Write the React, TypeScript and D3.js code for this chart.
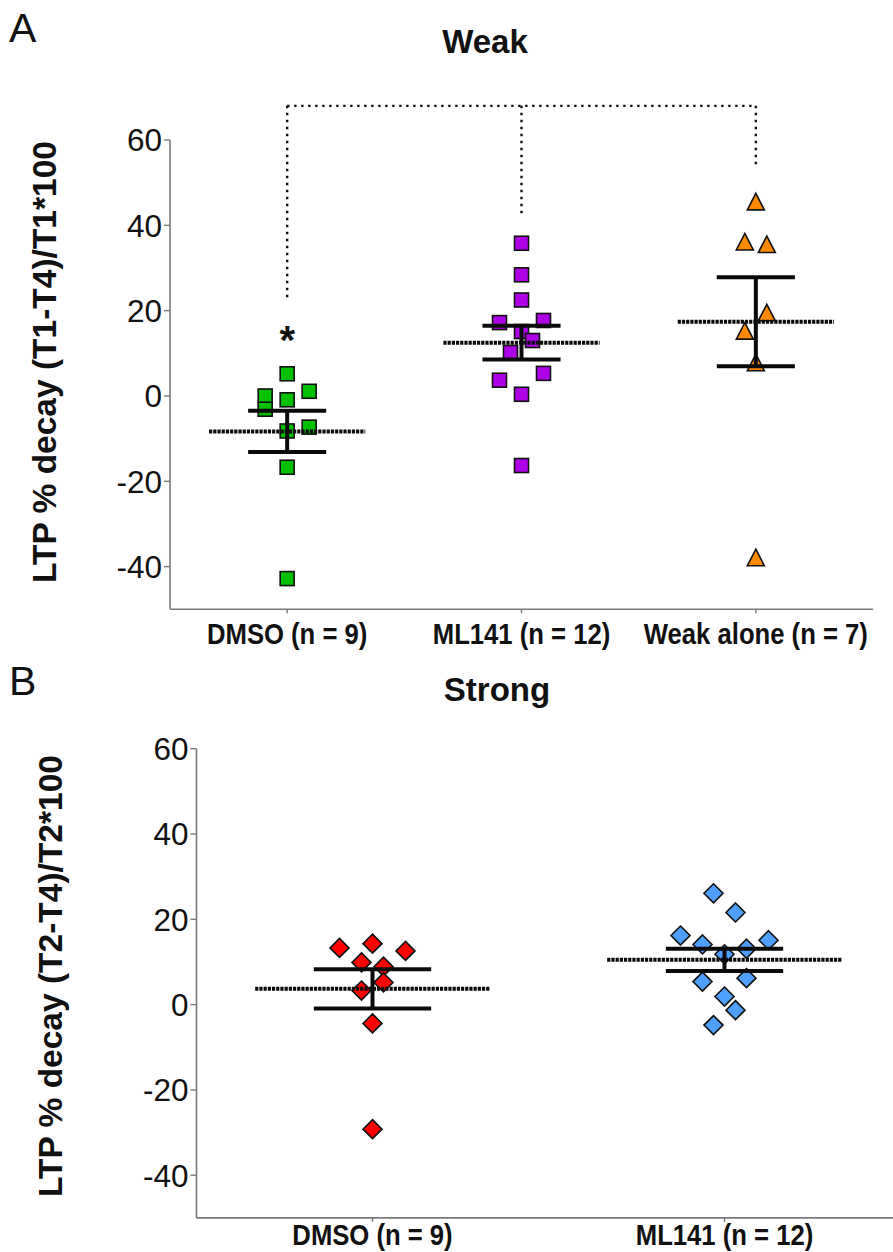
import React from "react";
import * as d3 from "d3";

// ---------- DATA ----------
const weakGroups = ["DMSO (n = 9)", "ML141 (n = 12)", "Weak alone (n = 7)"];
const weakDMSO = [5.2, 1.1, 0.0, -3.1, -0.9, -7.3, -8.2, -16.7, -42.8];
const weakDMSOSlots = [0, 2, -2, -2, 0, 2, 0, 0, 0];
const weakML141 = [35.8, 28.4, 22.5, 17.2, 17.7, 15.1, 13.0, 10.2, 3.7, 5.3, 0.4, -16.3];
const weakML141Slots = [0, 0, 0, -2, 2, 0, 1, -1, -2, 2, 0, 0];
const weakAlone = [45.5, 36.1, 35.5, 19.5, 15.2, 7.8, -37.9];
const weakAloneSlots = [0, -1, 1, 1, -1, 0, 0];
const weakMeans = [-8.3, 12.5, 17.4];
const weakSEM = [4.85, 3.95, 10.45];
const weakBracketTop = 68;
const weakBracketEnds = [22.5, 42.5, 53.5];
const weakStarValue = 14.8;

const strongGroups = ["DMSO (n = 9)", "ML141 (n = 12)"];
const strongDMSO = [13.3, 14.3, 12.6, 9.9, 8.9, 5.2, 3.3, -4.4, -29.2];
const strongDMSOSlots = [-3, 0, 3, -1, 1, 1, -1, 0, 0];
const strongML141 = [26.1, 21.6, 16.2, 14.1, 15.1, 13.1, 11.8, 5.4, 6.2, 1.9, -1.3, -4.8];
const strongML141Slots = [-1, 1, -4, -2, 4, 2, 0, -2, 2, 0, 1, -1];
const strongMeans = [3.7, 10.5];
const strongSEM = [4.6, 2.6];

const yTicks = [60, 40, 20, 0, -20, -40];
const yDomain: [number, number] = [-50, 60];

// ---------- STYLE ----------
const FONT = "'Liberation Sans', Arial, Helvetica, sans-serif";
const JITTER = 11;
const AXIS_COLOR = "#7a7a7a";

type Shape = "square" | "triangle" | "diamond";
type Series = { values: number[]; slots: number[]; color: string; shape: Shape };

function Marker({ shape, x, y, color }: { shape: Shape; x: number; y: number; color: string }) {
  const common = { fill: color, stroke: "#111", strokeWidth: 1.6 };
  if (shape === "square") {
    return <rect x={x - 7} y={y - 7} width={14} height={14} {...common} />;
  }
  if (shape === "triangle") {
    return <path d={`M${x},${y - 8.5}L${x + 8.5},${y + 8}L${x - 8.5},${y + 8}Z`} {...common} strokeLinejoin="miter" />;
  }
  return <path d={`M${x},${y - 9.5}L${x + 9.5},${y}L${x},${y + 9.5}L${x - 9.5},${y}Z`} {...common} />;
}

type PanelProps = {
  groups: string[];
  series: Series[];
  means: number[];
  sems: number[];
  xRange: [number, number];
  yRange: [number, number];
  title: string;
  titleX: number;
  titleY: number;
  letter: string;
  letterY: number;
  yLabel: string;
  yLabelX: number;
  yLabelY: number;
  xLabelY: number;
  extra?: (x: d3.ScaleBand<string>, y: d3.ScaleLinear<number, number>) => React.ReactNode;
};

function Panel(p: PanelProps) {
  const x = d3.scaleBand<string>().domain(p.groups).range(p.xRange).padding(0);
  const y = d3.scaleLinear().domain(yDomain).range(p.yRange);
  const bw = x.bandwidth();
  const axisX = p.xRange[0];
  const axisY = y(yDomain[0]);
  return (
    <g>
      <text x={9} y={p.letterY} fontFamily={FONT} fontSize={41} fill="#111" transform={`scale(1,1)`}>{p.letter}</text>
      <text x={p.titleX} y={p.titleY} fontFamily={FONT} fontSize={33} fontWeight="bold" textAnchor="middle" fill="#111">
        {p.title}
      </text>
      {/* axes */}
      <line x1={axisX} x2={axisX} y1={y(yDomain[1])} y2={axisY} stroke={AXIS_COLOR} strokeWidth={1.6} />
      <line x1={axisX} x2={p.xRange[1]} y1={axisY} y2={axisY} stroke={AXIS_COLOR} strokeWidth={1.6} />
      {yTicks.map((t) => (
        <g key={t}>
          <line x1={axisX - 6} x2={axisX} y1={y(t)} y2={y(t)} stroke={AXIS_COLOR} strokeWidth={1.4} />
          <text x={axisX - 8} y={y(t)} dy="0.36em" textAnchor="end" fontFamily={FONT} fontSize={31.5} fill="#111">
            {t}
          </text>
        </g>
      ))}
      {p.groups.map((g) => {
        const cx = (x(g) as number) + bw / 2;
        return (
          <g key={g}>
            <line x1={cx} x2={cx} y1={axisY} y2={axisY + 4} stroke={AXIS_COLOR} strokeWidth={1.4} />
            <text
              transform={`translate(${cx},${p.xLabelY}) scale(0.87,1)`}
              textAnchor="middle"
              fontFamily={FONT}
              fontSize={29.5}
              fontWeight="bold"
              fill="#111"
            >
              {g}
            </text>
          </g>
        );
      })}
      <text
        transform={`translate(${p.yLabelX},${p.yLabelY}) rotate(-90)`}
        textAnchor="middle"
        dy="0.36em"
        fontFamily={FONT}
        fontSize={33.5}
        fontWeight="bold"
        fill="#111"
      >
        {p.yLabel}
      </text>
      {/* points */}
      {p.series.map((s, gi) => {
        const cx = (x(p.groups[gi]) as number) + bw / 2;
        return (
          <g key={gi}>
            {s.values.map((v, i) => (
              <Marker key={i} shape={s.shape} x={cx + s.slots[i] * JITTER} y={y(v)} color={s.color} />
            ))}
          </g>
        );
      })}
      {/* mean & SEM */}
      {p.means.map((m, gi) => {
        const cx = (x(p.groups[gi]) as number) + bw / 2;
        const hi = y(m + p.sems[gi]);
        const lo = y(m - p.sems[gi]);
        return (
          <g key={gi} stroke="#0a0a0a">
            <line x1={cx} x2={cx} y1={hi} y2={lo} strokeWidth={4} />
            <line x1={cx - bw / 6} x2={cx + bw / 6} y1={hi} y2={hi} strokeWidth={4} />
            <line x1={cx - bw / 6} x2={cx + bw / 6} y1={lo} y2={lo} strokeWidth={4} />
            <line x1={cx - bw / 3} x2={cx + bw / 3} y1={y(m)} y2={y(m)} strokeWidth={4} strokeDasharray="3.2,1" />
          </g>
        );
      })}
      {p.extra ? p.extra(x, y) : null}
    </g>
  );
}

export default function App() {
  const weakSeries: Series[] = [
    { values: weakDMSO, slots: weakDMSOSlots, color: "#00C000", shape: "square" },
    { values: weakML141, slots: weakML141Slots, color: "#AE00E6", shape: "square" },
    { values: weakAlone, slots: weakAloneSlots, color: "#FF8A00", shape: "triangle" },
  ];
  const strongSeries: Series[] = [
    { values: strongDMSO, slots: strongDMSOSlots, color: "#FF0000", shape: "diamond" },
    { values: strongML141, slots: strongML141Slots, color: "#4F9FFF", shape: "diamond" },
  ];
  return (
    <svg width={893} height={1252} style={{ position: "absolute", left: 0, top: 0, background: "#fff" }}>
      <rect width={893} height={1252} fill="#fff" />
      <Panel
        groups={weakGroups}
        series={weakSeries}
        means={weakMeans}
        sems={weakSEM}
        xRange={[170, 873]}
        yRange={[609.3, 140]}
        title="Weak"
        titleX={485}
        titleY={53}
        letter="A"
        letterY={42}
        yLabel="LTP % decay (T1-T4)/T1*100"
        yLabelX={44}
        yLabelY={362}
        xLabelY={644}
        extra={(x, y) => {
          const centers = weakGroups.map((g) => (x(g) as number) + x.bandwidth() / 2);
          const top = y(weakBracketTop);
          return (
            <g>
              <g stroke="#111" strokeWidth={2.4} strokeDasharray="2.4,4.6" fill="none">
                <line x1={centers[0]} x2={centers[2]} y1={top} y2={top} />
                {centers.map((c, i) => (
                  <line key={i} x1={c} x2={c} y1={top} y2={y(weakBracketEnds[i])} />
                ))}
              </g>
              <text
                x={centers[0]}
                y={y(weakStarValue) + 21}
                textAnchor="middle"
                fontFamily={FONT}
                fontSize={40}
                fontWeight="bold"
                fill="#111"
              >
                *
              </text>
            </g>
          );
        }}
      />
      <Panel
        groups={strongGroups}
        series={strongSeries}
        means={strongMeans}
        sems={strongSEM}
        xRange={[196.5, 900.5]}
        yRange={[1217.9, 748.7]}
        title="Strong"
        titleX={497}
        titleY={701}
        letter="B"
        letterY={695}
        yLabel="LTP % decay (T2-T4)/T2*100"
        yLabelX={50}
        yLabelY={976}
        xLabelY={1245}
      />
    </svg>
  );
}
